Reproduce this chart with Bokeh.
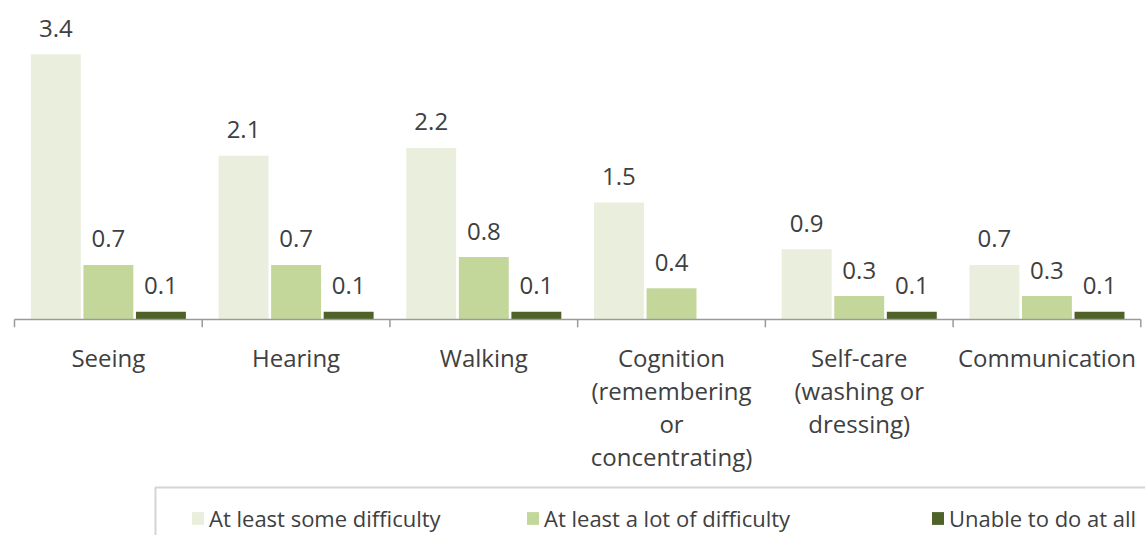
import numpy as np
from bokeh.plotting import figure
from bokeh.models import Range1d, ColumnDataSource, Legend, LegendItem, BoxAnnotation
from bokeh.core.properties import value
from bokeh.transform import dodge
from bokeh.embed import file_html
from bokeh.resources import INLINE

categories = ["Seeing", "Hearing", "Walking",
              "Cognition\n(remembering\nor\nconcentrating)",
              "Self-care\n(washing or\ndressing)", "Communication"]
some_difficulty = [3.4, 2.1, 2.2, 1.5, 0.9, 0.7]
lot_difficulty = [0.7, 0.7, 0.8, 0.4, 0.3, 0.3]
unable = [0.1, 0.1, 0.1, None, 0.1, 0.1]
series_names = ["At least some difficulty", "At least a lot of difficulty", "Unable to do at all"]
colors = ["#E9EFDC", "#C4D79B", "#4F6228"]

FONT = "Open Sans"
TXT = "#404040"

centers = np.arange(len(categories)) + 0.5
bounds = np.arange(len(categories) + 1)

p = figure(width=1145, height=535, output_backend="svg", toolbar_location=None,
           x_range=Range1d(-0.0746, 6.025), y_range=Range1d(-2.769, 4.09),
           x_axis_location=None, y_axis_location=None, min_border=0)
p.outline_line_color = None
p.grid.visible = False
p.background_fill_color = "white"

offsets = [-0.28, 0.0, 0.28]
renderers = []
for vals, off, col in zip([some_difficulty, lot_difficulty, unable], offsets, colors):
    v = [np.nan if x is None else x for x in vals]
    labels = ["" if x is None else f"{x:.1f}" for x in vals]
    src = ColumnDataSource(dict(x=centers, top=v, lab=labels))
    r = p.vbar(x=dodge("x", off), top="top", bottom=0, width=0.266, source=src,
               fill_color=col, line_color=None)
    renderers.append(r)
    p.text(x=dodge("x", off), y="top", text="lab", source=src,
           text_font=value(FONT), text_font_size="24px", text_color=TXT,
           text_align="center", text_baseline="middle", y_offset=-26)

# axis line and ticks
p.segment(x0=[bounds[0]], y0=[0], x1=[bounds[-1]], y1=[0], line_color="#9a9a9a", line_width=1.5)
p.segment(x0=bounds, y0=0, x1=bounds, y1=-0.1, line_color="#9a9a9a", line_width=1.5)

# category labels
p.text(x=centers, y=[0] * len(centers), text=categories,
       text_font=value(FONT), text_font_size="24px", text_color=TXT,
       text_align="center", text_baseline="top", y_offset=21, text_line_height=1.0)

# legend box
box = BoxAnnotation(left=0.751, right=7, top=-2.154, bottom=-3,
                    fill_alpha=0, line_color="#6f6f6f", line_width=2)
p.add_layout(box)

xs = [190, 525, 930]
for name, r, x in zip(series_names, renderers, xs):
    leg = Legend(items=[LegendItem(label=name, renderers=[r])], location=(x, 2),
                 border_line_color=None, background_fill_alpha=0, padding=0, margin=0,
                 glyph_width=15, glyph_height=16, label_standoff=4, label_height=20,
                 label_text_font=FONT, label_text_font_size="22px", label_text_color=TXT)
    p.add_layout(leg, "center")

open("out.html", "w").write(file_html(p, INLINE))
